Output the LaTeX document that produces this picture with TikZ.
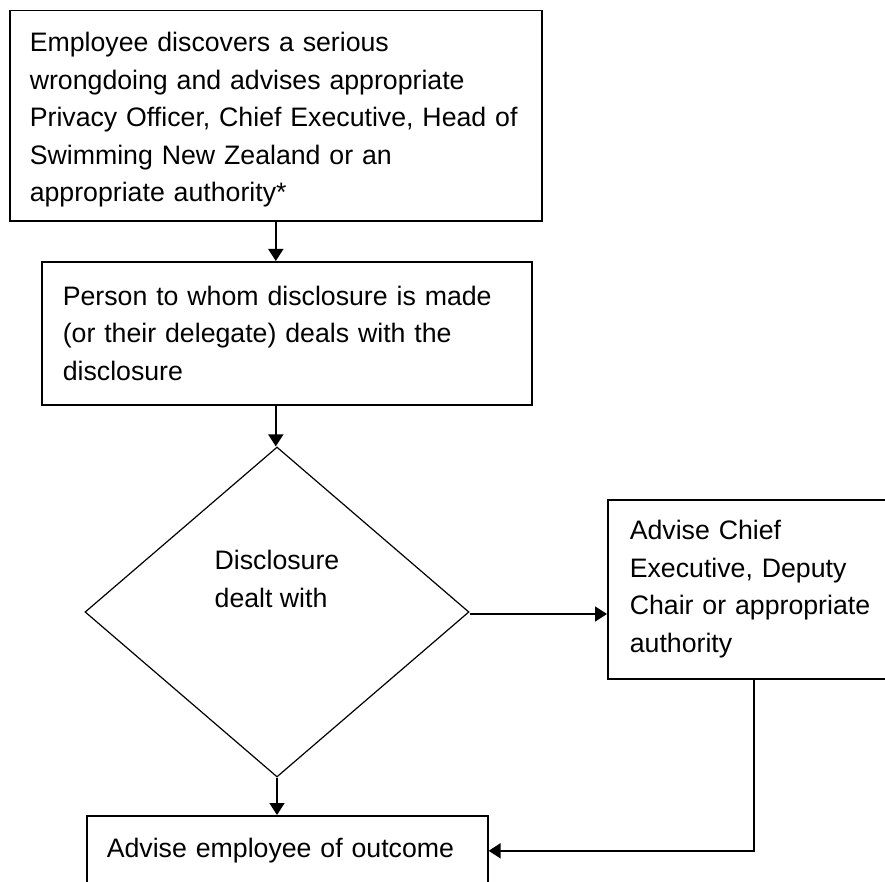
\documentclass[tikz,border=0pt]{standalone}
\usepackage{fontspec}
\setmainfont{Liberation Sans}
\usetikzlibrary{shapes.geometric,arrows.meta,calc}
\begin{document}
\begin{tikzpicture}[x=1pt,y=-1pt,
  txt/.style={font=\fontsize{26.7pt}{37.5pt}\selectfont},
  box/.style={txt, draw, line width=1.6pt, rectangle, anchor=north west, align=left, inner ysep=0pt},
  decision/.style={draw, diamond, line width=1.2pt, inner sep=0pt},
  conn/.style={line width=1.6pt, -{Triangle[length=12pt,width=15pt]}},
  plain/.style={line width=1.6pt}
]
\clip (0,0) rectangle (885,882);
\fill[white] (0,0) rectangle (885,882);

\node[box, inner xsep=20pt, text width=492pt, minimum height=210.4pt] (top) at (9,9.6)
  {\rule{0pt}{28pt}Employee discovers a serious\\wrongdoing and advises appropriate\\Privacy Officer, Chief Executive, Head of\\Swimming New Zealand or an\\appropriate authority*};

\node[box, inner xsep=21pt, text width=448pt, minimum height=143pt] (box2) at (41,261)
  {Person to whom disclosure is made\\(or their delegate) deals with the\\disclosure};

\node[decision, minimum width=384pt, minimum height=330pt,
  label={[txt, align=left, yshift=33pt]center:Disclosure\\dealt with}] (dia) at (277,612) {};

\node[box, inner xsep=22pt, text width=256pt, minimum height=179pt] (rbox) at (607,499)
  {Advise Chief\\Executive, Deputy\\Chair or appropriate\\authority};

\node[box, inner xsep=20pt, text width=361pt, minimum height=70pt] (bot) at (86,815)
  {Advise employee of outcome};

\draw[conn] (top.south) -- (top.south |- box2.north);
\draw[conn] (top.south |- box2.south) -- (top.south |- dia.north);
\draw[conn] (dia.south) -- (dia.south |- bot.north);
\draw[conn] ([yshift=-2pt]dia.east) -- ([yshift=-2pt]dia.east -| rbox.west);
\draw[conn] ($(rbox.south west)+(147,0)$) |- (bot.east);
\end{tikzpicture}
\end{document}
